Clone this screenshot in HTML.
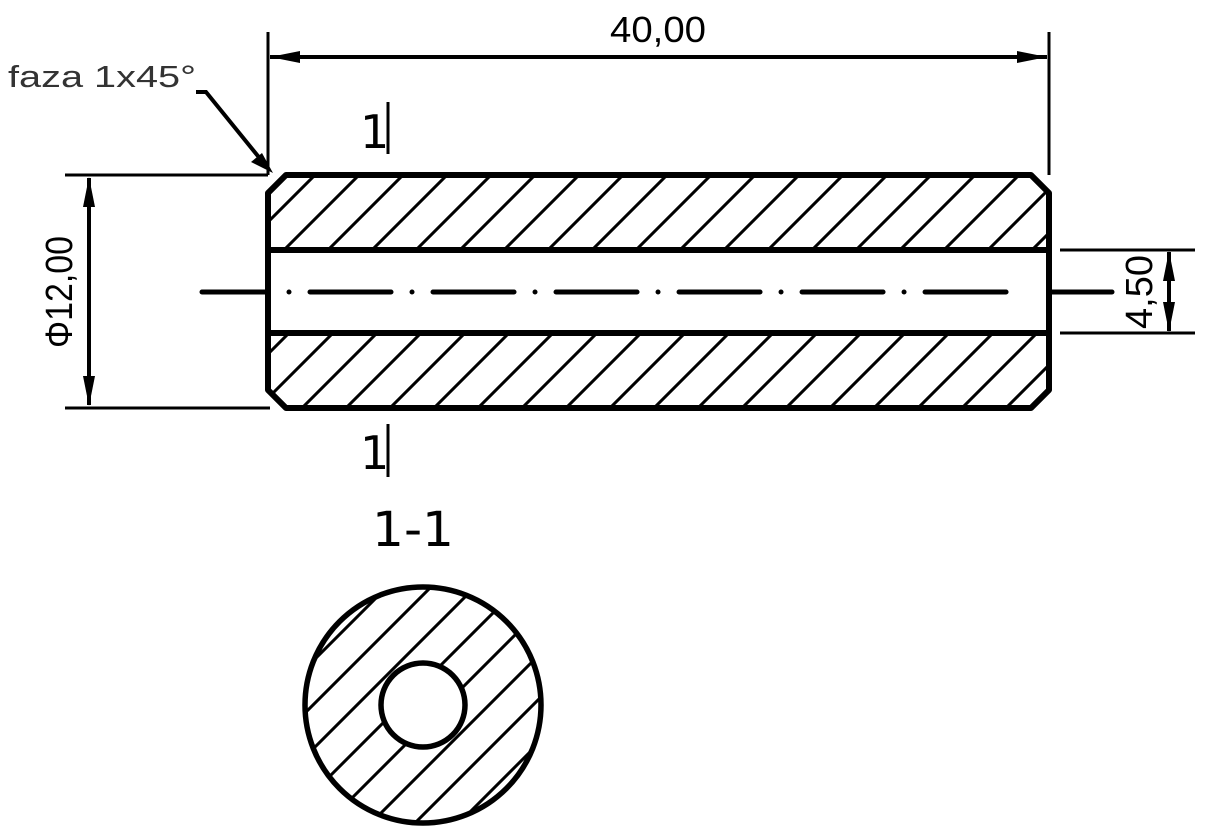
<!DOCTYPE html>
<html><head><meta charset="utf-8"><style>html,body{margin:0;padding:0;background:#fff}svg{display:block}</style></head>
<body>
<svg width="1212" height="836" viewBox="0 0 1212 836" xmlns="http://www.w3.org/2000/svg" font-family="Liberation Sans, DejaVu Sans, sans-serif">
<defs>
<pattern id="h" patternUnits="userSpaceOnUse" width="44" height="44" patternTransform="translate(6,0)">
<line x1="0" y1="44" x2="44" y2="0" stroke="#000" stroke-width="3"/>
<line x1="-22" y1="22" x2="22" y2="-22" stroke="#000" stroke-width="3"/>
<line x1="22" y1="66" x2="66" y2="22" stroke="#000" stroke-width="3"/>
</pattern>
</defs>
<polygon points="268,193 286,175 1031,175 1049,193 1049,250 268,250" fill="url(#h)"/>
<polygon points="268,333 1049,333 1049,390 1031,408 286,408 268,390" fill="url(#h)"/>
<polygon points="268,193 286,175 1031,175 1049,193 1049,390 1031,408 286,408 268,390" fill="none" stroke="#000" stroke-width="6" stroke-linejoin="round"/>
<line x1="268" y1="250" x2="1049" y2="250" stroke="#000" stroke-width="6"/>
<line x1="268" y1="333" x2="1049" y2="333" stroke="#000" stroke-width="6"/>
<line x1="202" y1="292" x2="266" y2="292" stroke="#000" stroke-width="5" stroke-linecap="round"/>
<line x1="289" y1="292" x2="1026" y2="292" stroke="#000" stroke-width="5" stroke-linecap="round" stroke-dasharray="0.01,21,81,21"/>
<line x1="1052" y1="292" x2="1112" y2="292" stroke="#000" stroke-width="5" stroke-linecap="round"/>
<line x1="268" y1="32" x2="268" y2="175" stroke="#000" stroke-width="3"/>
<line x1="1049" y1="32" x2="1049" y2="175" stroke="#000" stroke-width="3"/>
<line x1="270" y1="57" x2="1047" y2="57" stroke="#000" stroke-width="4"/>
<polygon points="270,57 300,51 300,63"/>
<polygon points="1047,57 1017,51 1017,63"/>
<text x="658" y="42" font-size="36" text-anchor="middle" textLength="96" lengthAdjust="spacingAndGlyphs">40,00</text>
<text x="8" y="87" font-size="31" fill="#333" textLength="188" lengthAdjust="spacingAndGlyphs">faza 1x45°</text>
<polyline points="196,92 206,92 266,166" fill="none" stroke="#000" stroke-width="4"/>
<polygon points="273,173 251,162 262,153"/>
<line x1="65" y1="175" x2="268" y2="175" stroke="#000" stroke-width="3"/>
<line x1="65" y1="408" x2="270" y2="408" stroke="#000" stroke-width="3"/>
<line x1="89" y1="178" x2="89" y2="405" stroke="#000" stroke-width="4"/>
<polygon points="89,177 83,207 95,207"/>
<polygon points="89,406 83,376 95,376"/>
<text transform="translate(72,292) rotate(-90)" font-size="38" text-anchor="middle" textLength="112" lengthAdjust="spacingAndGlyphs">Φ12,00</text>
<line x1="1060" y1="250" x2="1195" y2="250" stroke="#000" stroke-width="3"/>
<line x1="1060" y1="333" x2="1195" y2="333" stroke="#000" stroke-width="3"/>
<line x1="1169" y1="252" x2="1169" y2="331" stroke="#000" stroke-width="4"/>
<polygon points="1169,251 1163,281 1175,281"/>
<polygon points="1169,332 1163,302 1175,302"/>
<text transform="translate(1152,292) rotate(-90)" font-size="38" text-anchor="middle" textLength="74" lengthAdjust="spacingAndGlyphs">4,50</text>
<text x="360" y="148" font-size="46" font-family="DejaVu Sans, sans-serif">1</text>
<line x1="388" y1="102" x2="388" y2="154" stroke="#000" stroke-width="3"/>
<text x="360" y="469" font-size="46" font-family="DejaVu Sans, sans-serif">1</text>
<line x1="388" y1="424" x2="388" y2="477" stroke="#000" stroke-width="3"/>
<text x="413" y="546" font-size="48" text-anchor="middle" font-family="DejaVu Sans, sans-serif" textLength="82" lengthAdjust="spacingAndGlyphs">1-1</text>
<path d="M423,587 a118,118 0 1,0 0.01,0 Z M423,663 a42,42 0 1,1 -0.01,0 Z" fill="url(#h)" fill-rule="evenodd"/>
<circle cx="423" cy="705" r="118" fill="none" stroke="#000" stroke-width="5.5"/>
<circle cx="423" cy="705" r="42" fill="#fff" stroke="#000" stroke-width="5.5"/>
</svg>
</body></html>
